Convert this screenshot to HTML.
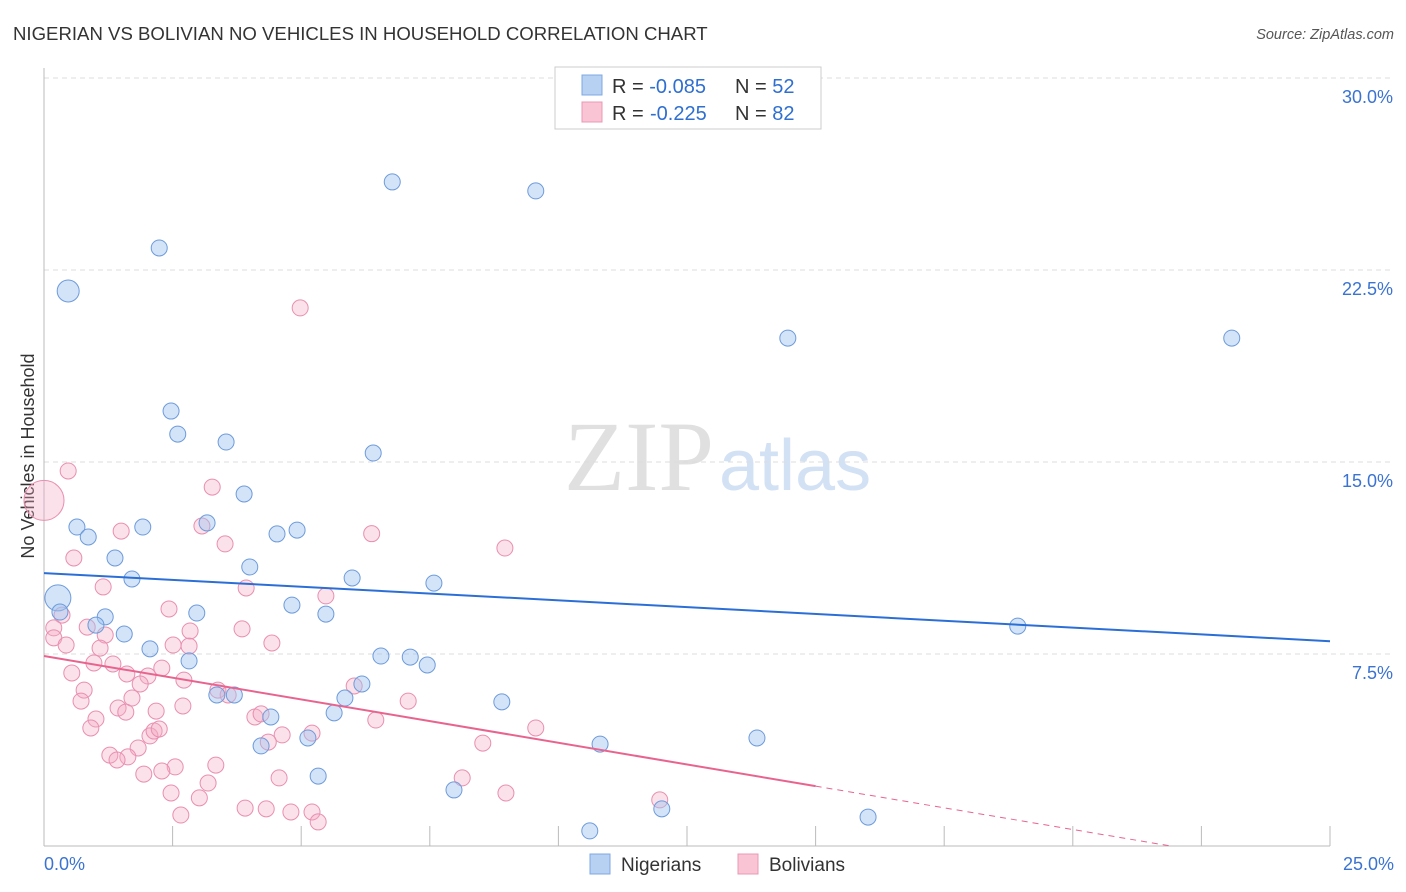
<!DOCTYPE html>
<html><head><meta charset="utf-8"><style>
body{margin:0;background:#fff;font-family:"Liberation Sans",sans-serif;}
svg{display:block}
</style></head><body>
<svg id="c" width="1406" height="892">
<text x="13" y="40" font-size="18.6" fill="#333">NIGERIAN VS BOLIVIAN NO VEHICLES IN HOUSEHOLD CORRELATION CHART</text>
<text x="1394" y="39" font-size="14.5" fill="#555" font-style="italic" text-anchor="end">Source: ZipAtlas.com</text>
<text x="714" y="490" font-size="100" font-family="Liberation Serif" fill="#e0e0e0" text-anchor="end">ZIP</text>
<text x="719" y="490" font-size="72" fill="#d3e1f5">atlas</text>
<text transform="translate(34,456) rotate(-90)" font-size="18" fill="#333" text-anchor="middle">No Vehicles in Household</text>
<g id="grid"></g><g id="pts"></g><g id="lines"></g>
<g>
<rect x="555" y="67" width="266" height="62" fill="#fff" stroke="#ccc"/>
<rect x="582" y="75" width="20" height="20" fill="#b7d1f3" stroke="#7fa8e0"/>
<rect x="582" y="102" width="20" height="20" fill="#f9c5d5" stroke="#eb98b4"/>
<text x="612" y="93" font-size="20" fill="#333">R = <tspan fill="#2f6fd0">-0.085</tspan><tspan x="735">N = </tspan><tspan fill="#2f6fd0">52</tspan></text>
<text x="612" y="120" font-size="20" fill="#333">R = <tspan fill="#2f6fd0" x="650">-0.225</tspan><tspan x="735">N = </tspan><tspan fill="#2f6fd0">82</tspan></text>
</g>
<g>
<rect x="590" y="854" width="20" height="20" fill="#b7d1f3" stroke="#7fa8e0"/>
<text x="621" y="871" font-size="19" fill="#333">Nigerians</text>
<rect x="738" y="854" width="20" height="20" fill="#f9c5d5" stroke="#eb98b4"/>
<text x="769" y="871" font-size="19" fill="#333">Bolivians</text>
</g>
</svg>
<script>
const yTicks=[7.5,15,22.5,30];
const yTickLabels=["7.5%","15.0%","22.5%","30.0%"];
const xTickLabels=["0.0%","25.0%"];
const nigX=[0.47,2.24,6.77,9.56,14.46,23.09,2.47,2.60,3.54,6.40,3.89,3.17,0.64,0.86,1.92,4.53,4.92,1.38,4.00,1.71,5.99,7.58,0.27,0.31,1.19,1.01,2.97,4.82,5.48,1.56,2.06,2.82,6.55,7.12,7.45,18.93,3.36,3.70,6.18,5.85,4.41,5.64,8.90,4.22,5.13,10.81,13.86,5.33,7.97,10.61,12.01,16.02];
const nigY=[21.68,23.36,25.94,25.59,19.84,19.84,16.99,16.09,15.78,15.35,13.75,12.62,12.46,12.07,12.46,12.19,12.34,11.25,10.90,10.43,10.47,10.27,9.69,9.14,8.95,8.63,9.10,9.41,9.06,8.28,7.70,7.23,7.42,7.38,7.07,8.59,5.90,5.90,6.33,5.78,5.04,5.20,5.63,3.91,4.22,3.98,4.22,2.73,2.19,0.59,1.45,1.13];
const bolX=[0,4.98,0.47,3.27,3.07,1.5,3.52,6.37,8.96,0.58,1.15,3.93,5.48,2.43,0.35,0.84,0.19,2.84,3.85,1.19,0.19,0.43,2.51,2.82,4.43,1.09,0.97,1.34,2.29,0.54,1.61,2.02,2.72,1.87,0.78,6.03,3.38,3.58,1.71,0.72,2.70,7.08,2.18,1.44,1.59,1.01,4.10,4.22,6.45,0.91,2.06,2.14,2.24,5.21,4.63,9.56,4.36,1.83,8.53,1.28,1.63,1.42,2.55,3.34,2.29,1.94,4.57,8.13,3.19,2.47,8.98,3.02,11.97,3.91,4.32,4.80,5.21,2.66,5.33];
const bolY=[13.5,21.02,14.65,14.02,12.5,12.3,11.8,12.2,11.64,11.25,10.12,10.08,9.77,9.26,9.02,8.55,8.52,8.40,8.48,8.24,8.13,7.85,7.85,7.81,7.93,7.73,7.15,7.11,6.95,6.76,6.72,6.64,6.48,6.33,6.09,6.25,6.09,5.90,5.78,5.66,5.47,5.66,5.27,5.39,5.23,4.96,5.04,5.16,4.92,4.61,4.30,4.49,4.57,4.41,4.34,4.61,4.06,3.83,4.02,3.55,3.48,3.36,3.09,3.16,2.93,2.81,2.66,2.66,2.46,2.07,2.07,1.88,1.80,1.48,1.45,1.33,1.33,1.21,0.94];
const nigLine=[10.66,8.0]; const bolLine=[7.42,-1.05];
const X=v=>44+v*51.44, Y=v=>846-v*25.6;
const NS="http://www.w3.org/2000/svg";
function mk(t,a,p){const e=document.createElementNS(NS,t);for(const k in a)e.setAttribute(k,a[k]);p.appendChild(e);return e;}
const grid=document.getElementById('grid'),pts=document.getElementById('pts'),lines=document.getElementById('lines');
yTicks.forEach((t,i)=>{
 const l=mk('line',{x1:44,x2:1394,y1:Y(t),y2:Y(t),stroke:'#ddd','stroke-dasharray':'5,4'},grid);
 
 
 const tx=mk('text',{x:1393,y:Y(t)+25,'font-size':18,fill:'#3b73d0','text-anchor':'end'},grid);
 tx.textContent=yTickLabels[i];
 
 
});
const ax=mk('line',{x1:44,x2:1330,y1:846,y2:846,stroke:'#bbb'},grid);


const ay=mk('line',{x1:44,x2:44,y1:68,y2:846,stroke:'#bbb'},grid);


for(let i=1;i<=10;i++){const tk=mk('line',{x1:X(i*2.5),x2:X(i*2.5),y1:826,y2:846,stroke:'#bbb'},grid);
 
 }
[[0,'start',44],[25,'end',1394]].forEach((d,i)=>{const tx=mk('text',{x:d[2],y:870,'font-size':18,fill:'#3b73d0','text-anchor':d[1]},grid);tx.textContent=xTickLabels[i];
 
 });
bolX.forEach((v,i)=>{const r=i==0?20:8;const c=mk('circle',{cx:X(v),cy:Y(bolY[i]),r:r,fill:'rgba(244,170,195,0.35)',stroke:'#e98fb0','stroke-width':1},pts);
 
 });
nigX.forEach((v,i)=>{const r=i==0?11:(i==22?13:8);const c=mk('circle',{cx:X(v),cy:Y(nigY[i]),r:r,fill:'rgba(160,195,240,0.45)',stroke:'#6d9bdb','stroke-width':1},pts);
 
 });
const bl=mk('line',{x1:X(0),y1:Y(nigLine[0]),x2:X(25),y2:Y(nigLine[1]),stroke:'#2b6fd6','stroke-width':2},lines);


const slope=(bolLine[1]-bolLine[0])/25;
const pl=mk('line',{x1:X(0),y1:Y(bolLine[0]),x2:X(15),y2:Y(bolLine[0]+slope*15),stroke:'#e8648f','stroke-width':2},lines);


const z=-bolLine[0]/slope;
const pd=mk('line',{x1:X(15),y1:Y(bolLine[0]+slope*15),x2:X(z),y2:Y(0),stroke:'#e8648f','stroke-width':1,'stroke-dasharray':'6,5'},lines);


</script>
</body></html>
